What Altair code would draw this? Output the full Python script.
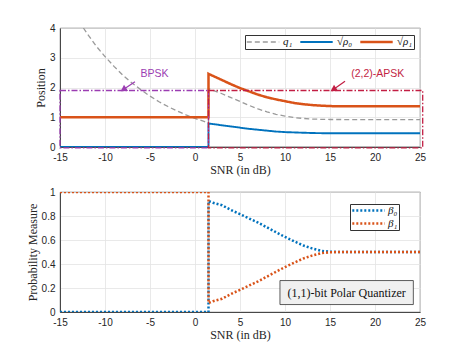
import altair as alt
import pandas as pd

# ---------------- data ----------------
# top panel
q1_snr = [-12.4, -12, -11, -10, -9, -8, -7, -6, -5, -4, -3, -2, -1, 0, 1, 1.5,
          1.5, 2, 3, 4, 5, 6, 7, 8, 9, 10, 11, 12, 13, 14, 15, 20, 25]
q1_val = [4.00, 3.82, 3.40, 3.04, 2.71, 2.41, 2.15, 1.92, 1.71, 1.52, 1.36, 1.21, 1.08, 0.96, 0.86, 0.81,
          1.97, 1.90, 1.79, 1.66, 1.53, 1.40, 1.28, 1.18, 1.10, 1.04, 0.99, 0.96, 0.94, 0.93, 0.925, 0.92, 0.92]

rho_snr = [-15, 1.5, 1.5, 2, 3, 4, 5, 6, 7, 8, 9, 10, 11, 12, 13, 14, 15, 16, 20, 25]
rho0_val = [0, 0, 0.79, 0.77, 0.73, 0.69, 0.65, 0.61, 0.58, 0.55, 0.52, 0.50, 0.49, 0.48, 0.47, 0.465, 0.46, 0.46, 0.46, 0.46]
rho1_val = [1, 1, 2.46, 2.39, 2.25, 2.11, 1.98, 1.87, 1.76, 1.67, 1.60, 1.54, 1.48, 1.44, 1.41, 1.39, 1.375, 1.37, 1.37, 1.37]

zero_snr = [1.5, 25]
zero_val = [0, 0]

top_series = ["q\u2081", "\u221a\u03c1\u2080", "\u221a\u03c1\u2081"]
top_colors = ["#9a9a9a", "#0072BD", "#D95319"]

bpsk_box = {"x1": -15, "x2": 1.5, "y1": -0.03, "y2": 1.9}
apsk_box = {"x1": 1.5, "x2": 25.3, "y1": -0.03, "y2": 1.9}
bpsk_arrow = {"x": -6.67, "y": 2.19, "x2": -7.96, "y2": 1.93}
apsk_arrow = {"x": 16.67, "y": 2.21, "x2": 15.37, "y2": 1.93}
bpsk_label = {"x": -4.5, "y": 2.47, "text": "BPSK"}
apsk_label = {"x": 20.3, "y": 2.44, "text": "(2,2)-APSK"}

# bottom panel
beta_snr = [-15, 1.5, 1.5, 2, 3, 4, 5, 6, 7, 8, 9, 10, 11, 12, 13, 14, 15, 16, 25]
beta0_val = [0, 0, 0.925, 0.91, 0.89, 0.85, 0.815, 0.78, 0.745, 0.705, 0.665, 0.625, 0.59, 0.555, 0.53, 0.51, 0.502, 0.5, 0.5]
beta1_val = [1, 1, 0.075, 0.09, 0.11, 0.15, 0.185, 0.22, 0.255, 0.295, 0.335, 0.375, 0.41, 0.445, 0.47, 0.49, 0.498, 0.5, 0.5]
bottom_series = ["\u03b2\u2080", "\u03b2\u2081"]
bottom_colors = ["#0072BD", "#D95319"]

quant_box = {"x1": 9.44, "x2": 24.26, "y1": 0.062, "y2": 0.262, "text": "(1,1)-bit Polar Quantizer"}

x_ticks = [-15, -10, -5, 0, 5, 10, 15, 20, 25]
top_y_ticks = [0, 1, 2, 3, 4]
bottom_y_ticks = [0, 0.2, 0.4, 0.6, 0.8, 1]

PURPLE = "#9B3DB2"
CRIMSON = "#C21E43"

# ---------------- frames ----------------
def series_df(name, xs, ys):
    return pd.DataFrame({"series": name, "snr": xs, "val": ys, "i": range(len(xs))})

top_df = pd.concat([
    series_df(top_series[0], q1_snr, q1_val),
    series_df(top_series[1], rho_snr, rho0_val),
    series_df(top_series[2], rho_snr, rho1_val),
])
zero_df = pd.DataFrame({"snr": zero_snr, "val": zero_val})
bottom_df = pd.concat([
    series_df(bottom_series[0], beta_snr, beta0_val),
    series_df(bottom_series[1], beta_snr, beta1_val),
])

W, H1, H2 = 360, 119, 120
xscale = alt.Scale(domain=[-15, 25], nice=False, zero=False)
xaxis = alt.Axis(values=x_ticks, title="SNR (in dB)", labelExpr="toString(datum.value)",
                 labelFlush=False)
top_yscale = alt.Scale(domain=[0, 4], nice=False)
top_yaxis = alt.Axis(values=top_y_ticks, title="Position", labelFlush=False)
bot_yscale = alt.Scale(domain=[0, 1], nice=False)
bot_yaxis = alt.Axis(values=bottom_y_ticks, title="Probability Measure", labelFlush=False,
                     labelExpr="toString(datum.value)")


def X(field):
    return alt.X(field, type="quantitative", scale=xscale, axis=xaxis)


def YT(field):
    return alt.Y(field, type="quantitative", scale=top_yscale, axis=top_yaxis)


def YB(field):
    return alt.Y(field, type="quantitative", scale=bot_yscale, axis=bot_yaxis)


# ---------------- top ----------------
top_legend = alt.Legend(orient="none", legendX=185, legendY=7, direction="horizontal",
                        title=None, symbolType="stroke", symbolSize=1050, clipHeight=12,
                        labelFont="Liberation Serif", labelFontStyle="italic", labelFontSize=11,
                        labelColor="#111111", fillColor="white", strokeColor="#333333",
                        padding=1, columnPadding=6, labelOffset=3, symbolStrokeWidth=2.5)

zero_line = alt.Chart(zero_df).mark_line(color="#b8b8b8", strokeWidth=2, clip=True).encode(
    x=X("snr"), y=YT("val"))

lines_top = alt.Chart(top_df).mark_line(clip=True, strokeCap="butt").encode(
    x=X("snr"), y=YT("val"),
    color=alt.Color("series:N", scale=alt.Scale(domain=top_series, range=top_colors), legend=top_legend),
    strokeDash=alt.StrokeDash("series:N", scale=alt.Scale(domain=top_series, range=[[5, 3], [1, 0], [1, 0]]),
                              legend=top_legend),
    strokeWidth=alt.StrokeWidth("series:N", scale=alt.Scale(domain=top_series, range=[1.3, 2.5, 2.5]),
                                legend=top_legend),
    order="i:Q",
)


def box_layer(b, color):
    return alt.Chart(pd.DataFrame([b])).mark_rect(
        fill="transparent", stroke=color, strokeWidth=1.3, strokeDash=[6, 2, 1.5, 2]).encode(
        x=X("x1"), x2="x2:Q", y=YT("y1"), y2="y2:Q")


def arrow_layer(a, color):
    df = pd.DataFrame([a])
    shaft = alt.Chart(df).mark_rule(color=color, strokeWidth=1.2).encode(
        x=X("x"), y=YT("y"), x2="x2:Q", y2="y2:Q")
    head = alt.Chart(df).mark_point(shape="triangle-up", filled=True, color=color, size=55,
                                    opacity=1, angle=237, dx=2, dy=-1.5).encode(
        x=X("x2"), y=YT("y2"))
    return shaft + head


def label_layer(t, color):
    return alt.Chart(pd.DataFrame([t])).mark_text(
        color=color, font="Liberation Sans", fontSize=10.5, align="center", baseline="middle").encode(
        x=X("x"), y=YT("y"), text="text:N")


top = alt.layer(
    lines_top,
    zero_line,
    box_layer(bpsk_box, PURPLE),
    box_layer(apsk_box, CRIMSON),
    arrow_layer(bpsk_arrow, PURPLE),
    arrow_layer(apsk_arrow, CRIMSON),
    label_layer(bpsk_label, PURPLE),
    label_layer(apsk_label, CRIMSON),
).properties(width=W, height=H1)

# ---------------- bottom ----------------
bot_legend = alt.Legend(orient="none", legendX=290, legendY=12, direction="vertical",
                        title=None, symbolType="stroke", symbolSize=1050, clipHeight=11,
                        labelFont="Liberation Serif", labelFontStyle="italic", labelFontSize=11,
                        labelColor="#111111", fillColor="white", strokeColor="#333333",
                        padding=1, labelOffset=2, symbolStrokeWidth=2.5, symbolDash=[2, 2],
                        rowPadding=1)

lines_bot = alt.Chart(bottom_df).mark_line(clip=True, strokeWidth=2.5, strokeDash=[2, 2],
                                           strokeCap="butt").encode(
    x=X("snr"), y=YB("val"),
    color=alt.Color("series:N", scale=alt.Scale(domain=bottom_series, range=bottom_colors),
                    legend=bot_legend),
    order="i:Q",
)

qdf = pd.DataFrame([quant_box])
qrect = alt.Chart(qdf).mark_rect(fill="#f0f0f0", stroke="#333333", strokeWidth=0.8).encode(
    x=X("x1"), x2="x2:Q", y=YB("y1"), y2="y2:Q")
qtext = alt.Chart(qdf).transform_calculate(
    xm="(datum.x1 + datum.x2) / 2", ym="(datum.y1 + datum.y2) / 2").mark_text(
    font="Liberation Serif", fontSize=12, color="#111111", align="center", baseline="middle").encode(
    x=X("xm"), y=YB("ym"), text="text:N")

bottom = alt.layer(lines_bot, qrect, qtext).properties(width=W, height=H2)

chart = alt.vconcat(top, bottom, spacing=10).resolve_scale(
    color="independent", strokeDash="independent", strokeWidth="independent"
).properties(
    padding={"left": 17, "top": 14, "right": 5, "bottom": 5},
    background="white",
).configure_axis(
    labelFont="Liberation Sans", labelFontSize=10, labelColor="#262626",
    titleFont="Liberation Serif", titleFontSize=12, titleFontWeight="normal", titleColor="#262626",
    gridColor="#e3e3e3", gridWidth=0.8, domainColor="#262626", domainWidth=0.8,
    ticks=False, labelPadding=5, titlePadding=2,
).configure_view(stroke="#262626", strokeWidth=0.8)

chart.save("out.html", embed_options={"renderer": "svg", "actions": False})
